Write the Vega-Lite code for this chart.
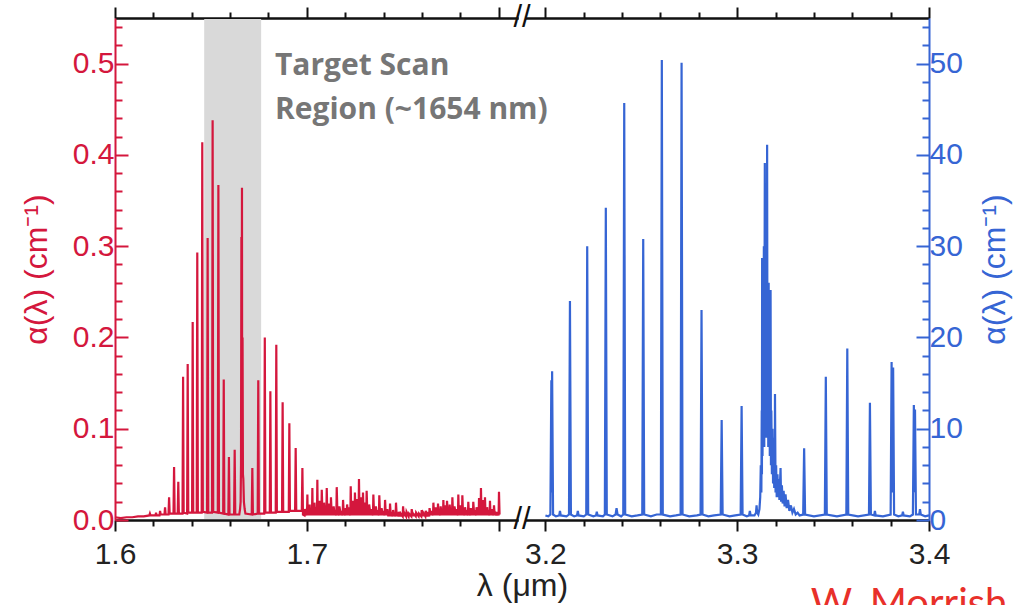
{
"$schema": "https://vega.github.io/schema/vega-lite/v6.json",
"autosize": {"type": "none"},
"width": 814,
"height": 502,
"padding": {"left": 115, "top": 18, "right": 88, "bottom": 85},
"background": "white",
"config": {
  "view": {"stroke": null},
  "axis": {"grid": false, "domainWidth": 2, "tickWidth": 2, "labelFont": "Liberation Sans", "labelFontSize": 30, "titleFont": "Liberation Sans", "titleFontSize": 32, "titleFontWeight": "normal", "labelFlush": false, "labelOverlap": false, "labelBound": false}
},
"datasets": {
"red": [
{"l":1.600,"a":0.003},{"l":1.603,"a":0.002},{"l":1.606,"a":0.003},{"l":1.609,"a":0.003},{"l":1.612,"a":0.004},{"l":1.615,"a":0.004},
{"l":1.6179,"a":0.005},{"l":1.6182,"a":0.007},{"l":1.6185,"a":0.005},
{"l":1.6211,"a":0.005},{"l":1.6214,"a":0.008},{"l":1.6217,"a":0.005},
{"l":1.6232,"a":0.005},{"l":1.6235,"a":0.010},{"l":1.6238,"a":0.006},
{"l":1.6258,"a":0.006},{"l":1.6261,"a":0.014},{"l":1.6264,"a":0.006},
{"l":1.6279,"a":0.006},{"l":1.6282,"a":0.025},{"l":1.6285,"a":0.007},
{"l":1.6305,"a":0.007},{"l":1.6308,"a":0.058},{"l":1.6311,"a":0.007},
{"l":1.6327,"a":0.007},{"l":1.6330,"a":0.042},{"l":1.6333,"a":0.007},
{"l":1.6352,"a":0.007},{"l":1.6355,"a":0.157},{"l":1.6358,"a":0.008},
{"l":1.6376,"a":0.007},{"l":1.6379,"a":0.171},{"l":1.6382,"a":0.008},
{"l":1.6402,"a":0.008},{"l":1.6405,"a":0.217},{"l":1.6408,"a":0.008},
{"l":1.6426,"a":0.008},{"l":1.6429,"a":0.293},{"l":1.6432,"a":0.008},
{"l":1.6452,"a":0.008},{"l":1.6455,"a":0.414},{"l":1.6458,"a":0.009},
{"l":1.6480,"a":0.008},{"l":1.6483,"a":0.309},{"l":1.6486,"a":0.008},
{"l":1.6506,"a":0.008},{"l":1.6509,"a":0.438},{"l":1.6512,"a":0.009},
{"l":1.6536,"a":0.008},{"l":1.6539,"a":0.367},{"l":1.6542,"a":0.008},
{"l":1.6564,"a":0.007},{"l":1.6567,"a":0.154},{"l":1.6570,"a":0.007},
{"l":1.6591,"a":0.006},{"l":1.6594,"a":0.069},{"l":1.6597,"a":0.006},
{"l":1.6621,"a":0.006},{"l":1.6624,"a":0.077},{"l":1.6627,"a":0.006},
{"l":1.6648,"a":0.006},{"l":1.6652,"a":0.012},{"l":1.6655,"a":0.02},{"l":1.6657,"a":0.06},{"l":1.6659,"a":0.31},{"l":1.6660,"a":0.08},{"l":1.6662,"a":0.364},{"l":1.6663,"a":0.1},{"l":1.6665,"a":0.2},{"l":1.6667,"a":0.05},{"l":1.6669,"a":0.045},{"l":1.6672,"a":0.02},{"l":1.6676,"a":0.012},{"l":1.6680,"a":0.007},
{"l":1.6713,"a":0.006},{"l":1.6716,"a":0.057},{"l":1.6719,"a":0.006},
{"l":1.6744,"a":0.007},{"l":1.6747,"a":0.153},{"l":1.6750,"a":0.007},
{"l":1.6778,"a":0.007},{"l":1.6781,"a":0.200},{"l":1.6784,"a":0.008},
{"l":1.6807,"a":0.008},{"l":1.6810,"a":0.141},{"l":1.6813,"a":0.008},
{"l":1.6838,"a":0.008},{"l":1.6841,"a":0.192},{"l":1.6844,"a":0.009},
{"l":1.6871,"a":0.009},{"l":1.6874,"a":0.129},{"l":1.6877,"a":0.009},
{"l":1.6906,"a":0.009},{"l":1.6909,"a":0.106},{"l":1.6912,"a":0.010},
{"l":1.6939,"a":0.010},{"l":1.6942,"a":0.079},{"l":1.6945,"a":0.010},
{"l":1.6974,"a":0.010},{"l":1.6977,"a":0.057},{"l":1.6980,"a":0.006},
{"l":1.6988,"a":0.005},{"l":1.6990,"a":0.012},{"l":1.6998,"a":0.005},{"l":1.7000,"a":0.012},{"l":1.7001,"a":0.005},{"l":1.7003,"a":0.028},{"l":1.7005,"a":0.005},{"l":1.7007,"a":0.014},
{"l":1.7013,"a":0.005},{"l":1.7015,"a":0.017},{"l":1.7018,"a":0.005},{"l":1.7020,"a":0.011},{"l":1.7024,"a":0.005},{"l":1.7026,"a":0.013},{"l":1.7027,"a":0.005},{"l":1.7029,"a":0.035},
{"l":1.7031,"a":0.005},{"l":1.7032,"a":0.015},{"l":1.7038,"a":0.005},{"l":1.7040,"a":0.019},{"l":1.7044,"a":0.005},{"l":1.7046,"a":0.012},{"l":1.7050,"a":0.005},{"l":1.7052,"a":0.014},
{"l":1.7053,"a":0.005},{"l":1.7055,"a":0.044},{"l":1.7057,"a":0.005},{"l":1.7058,"a":0.016},{"l":1.7064,"a":0.005},{"l":1.7066,"a":0.021},{"l":1.7070,"a":0.005},{"l":1.7072,"a":0.013},
{"l":1.7076,"a":0.005},{"l":1.7078,"a":0.033},{"l":1.7082,"a":0.005},{"l":1.7084,"a":0.015},{"l":1.7088,"a":0.005},{"l":1.7090,"a":0.019},{"l":1.7095,"a":0.005},{"l":1.7097,"a":0.013},
{"l":1.7102,"a":0.005},{"l":1.7104,"a":0.035},{"l":1.7107,"a":0.005},{"l":1.7109,"a":0.014},{"l":1.7113,"a":0.005},{"l":1.7115,"a":0.018},{"l":1.7118,"a":0.005},{"l":1.7120,"a":0.012},
{"l":1.7124,"a":0.005},{"l":1.7126,"a":0.025},{"l":1.7130,"a":0.005},{"l":1.7132,"a":0.013},{"l":1.7138,"a":0.005},{"l":1.7140,"a":0.015},{"l":1.7146,"a":0.005},{"l":1.7148,"a":0.011},
{"l":1.7154,"a":0.005},{"l":1.7156,"a":0.036},{"l":1.7160,"a":0.005},{"l":1.7162,"a":0.012},{"l":1.7168,"a":0.005},{"l":1.7170,"a":0.015},{"l":1.7178,"a":0.005},{"l":1.7180,"a":0.010},
{"l":1.7187,"a":0.005},{"l":1.7189,"a":0.022},{"l":1.7193,"a":0.005},{"l":1.7195,"a":0.011},{"l":1.7201,"a":0.005},{"l":1.7203,"a":0.013},{"l":1.7208,"a":0.005},{"l":1.7210,"a":0.017},
{"l":1.7216,"a":0.005},{"l":1.7218,"a":0.014},{"l":1.7227,"a":0.005},{"l":1.7229,"a":0.037},{"l":1.7232,"a":0.005},{"l":1.7234,"a":0.016},{"l":1.7238,"a":0.005},{"l":1.7240,"a":0.021},
{"l":1.7244,"a":0.005},{"l":1.7246,"a":0.015},{"l":1.7249,"a":0.005},{"l":1.7251,"a":0.030},{"l":1.7254,"a":0.005},{"l":1.7256,"a":0.017},{"l":1.7260,"a":0.005},{"l":1.7262,"a":0.023},
{"l":1.7265,"a":0.005},{"l":1.7267,"a":0.016},{"l":1.7270,"a":0.005},{"l":1.7272,"a":0.045},{"l":1.7275,"a":0.005},{"l":1.7277,"a":0.018},{"l":1.7280,"a":0.005},{"l":1.7282,"a":0.025},
{"l":1.7286,"a":0.005},{"l":1.7288,"a":0.016},{"l":1.7291,"a":0.005},{"l":1.7293,"a":0.030},{"l":1.7296,"a":0.005},{"l":1.7298,"a":0.015},{"l":1.7301,"a":0.005},{"l":1.7303,"a":0.019},
{"l":1.7306,"a":0.005},{"l":1.7308,"a":0.014},{"l":1.7310,"a":0.005},{"l":1.7312,"a":0.032},{"l":1.7316,"a":0.005},{"l":1.7318,"a":0.013},{"l":1.7323,"a":0.005},{"l":1.7325,"a":0.017},
{"l":1.7333,"a":0.005},{"l":1.7335,"a":0.012},{"l":1.7345,"a":0.005},{"l":1.7347,"a":0.028},{"l":1.7351,"a":0.005},{"l":1.7353,"a":0.012},{"l":1.7358,"a":0.005},{"l":1.7360,"a":0.015},
{"l":1.7366,"a":0.005},{"l":1.7368,"a":0.011},{"l":1.7376,"a":0.005},{"l":1.7378,"a":0.027},{"l":1.7382,"a":0.005},{"l":1.7384,"a":0.011},{"l":1.7388,"a":0.005},{"l":1.7390,"a":0.013},
{"l":1.7396,"a":0.005},{"l":1.7398,"a":0.010},{"l":1.7406,"a":0.005},{"l":1.7408,"a":0.022},{"l":1.7412,"a":0.005},{"l":1.7414,"a":0.010},{"l":1.7418,"a":0.005},{"l":1.7420,"a":0.012},
{"l":1.7425,"a":0.004},{"l":1.7427,"a":0.009},{"l":1.7432,"a":0.004},{"l":1.7434,"a":0.018},{"l":1.7438,"a":0.004},{"l":1.7440,"a":0.009},{"l":1.7448,"a":0.004},{"l":1.7450,"a":0.011},
{"l":1.7455,"a":0.004},{"l":1.7457,"a":0.008},{"l":1.7463,"a":0.004},{"l":1.7465,"a":0.019},{"l":1.7469,"a":0.004},{"l":1.7471,"a":0.008},{"l":1.7478,"a":0.004},{"l":1.7480,"a":0.009},
{"l":1.7488,"a":0.004},{"l":1.7490,"a":0.007},{"l":1.7500,"a":0.004},{"l":1.7502,"a":0.015},{"l":1.7506,"a":0.004},{"l":1.7508,"a":0.008},{"l":1.7518,"a":0.004},{"l":1.7520,"a":0.009},
{"l":1.7531,"a":0.004},{"l":1.7533,"a":0.007},{"l":1.7545,"a":0.004},{"l":1.7547,"a":0.012},{"l":1.7553,"a":0.004},{"l":1.7555,"a":0.007},{"l":1.7568,"a":0.004},{"l":1.7570,"a":0.008},
{"l":1.7583,"a":0.004},{"l":1.7585,"a":0.007},{"l":1.7597,"a":0.004},{"l":1.7599,"a":0.011},{"l":1.7605,"a":0.004},{"l":1.7607,"a":0.008},{"l":1.7618,"a":0.004},{"l":1.7620,"a":0.010},
{"l":1.7628,"a":0.004},{"l":1.7630,"a":0.009},{"l":1.7638,"a":0.004},{"l":1.7640,"a":0.013},{"l":1.7646,"a":0.005},{"l":1.7648,"a":0.010},{"l":1.7658,"a":0.005},{"l":1.7660,"a":0.019},
{"l":1.7664,"a":0.005},{"l":1.7666,"a":0.011},{"l":1.7670,"a":0.005},{"l":1.7672,"a":0.014},{"l":1.7676,"a":0.005},{"l":1.7678,"a":0.011},{"l":1.7682,"a":0.005},{"l":1.7684,"a":0.018},
{"l":1.7688,"a":0.005},{"l":1.7690,"a":0.012},{"l":1.7696,"a":0.005},{"l":1.7698,"a":0.015},{"l":1.7703,"a":0.005},{"l":1.7705,"a":0.012},{"l":1.7710,"a":0.005},{"l":1.7712,"a":0.022},
{"l":1.7715,"a":0.005},{"l":1.7717,"a":0.013},{"l":1.7720,"a":0.005},{"l":1.7722,"a":0.016},{"l":1.7724,"a":0.005},{"l":1.7726,"a":0.013},{"l":1.7729,"a":0.005},{"l":1.7731,"a":0.021},
{"l":1.7736,"a":0.005},{"l":1.7738,"a":0.014},{"l":1.7743,"a":0.005},{"l":1.7745,"a":0.017},{"l":1.7749,"a":0.005},{"l":1.7751,"a":0.013},{"l":1.7757,"a":0.005},{"l":1.7759,"a":0.025},
{"l":1.7763,"a":0.005},{"l":1.7765,"a":0.013},{"l":1.7768,"a":0.005},{"l":1.7770,"a":0.015},{"l":1.7778,"a":0.005},{"l":1.7780,"a":0.012},{"l":1.7788,"a":0.005},{"l":1.7790,"a":0.028},
{"l":1.7793,"a":0.005},{"l":1.7795,"a":0.013},{"l":1.7798,"a":0.005},{"l":1.7800,"a":0.016},{"l":1.7804,"a":0.005},{"l":1.7806,"a":0.012},{"l":1.7809,"a":0.005},{"l":1.7811,"a":0.027},
{"l":1.7815,"a":0.005},{"l":1.7817,"a":0.012},{"l":1.7823,"a":0.005},{"l":1.7825,"a":0.014},{"l":1.7832,"a":0.005},{"l":1.7834,"a":0.011},{"l":1.7840,"a":0.005},{"l":1.7842,"a":0.020},
{"l":1.7846,"a":0.005},{"l":1.7848,"a":0.011},{"l":1.7853,"a":0.005},{"l":1.7855,"a":0.013},{"l":1.7860,"a":0.005},{"l":1.7862,"a":0.011},{"l":1.7866,"a":0.005},{"l":1.7868,"a":0.020},
{"l":1.7873,"a":0.005},{"l":1.7875,"a":0.011},{"l":1.7883,"a":0.005},{"l":1.7885,"a":0.014},{"l":1.7890,"a":0.005},{"l":1.7892,"a":0.013},{"l":1.7896,"a":0.005},{"l":1.7898,"a":0.024},
{"l":1.7901,"a":0.005},{"l":1.7903,"a":0.018},{"l":1.7906,"a":0.005},{"l":1.7908,"a":0.035},{"l":1.7911,"a":0.005},{"l":1.7913,"a":0.019},{"l":1.7916,"a":0.005},{"l":1.7918,"a":0.022},
{"l":1.7921,"a":0.005},{"l":1.7923,"a":0.015},{"l":1.7927,"a":0.005},{"l":1.7929,"a":0.025},{"l":1.7932,"a":0.005},{"l":1.7934,"a":0.013},{"l":1.7938,"a":0.005},{"l":1.7940,"a":0.014},
{"l":1.7945,"a":0.005},{"l":1.7947,"a":0.011},{"l":1.7953,"a":0.005},{"l":1.7955,"a":0.021},{"l":1.7958,"a":0.005},{"l":1.7960,"a":0.010},{"l":1.7963,"a":0.005},{"l":1.7965,"a":0.012},
{"l":1.7968,"a":0.005},{"l":1.7970,"a":0.009},{"l":1.7974,"a":0.005},{"l":1.7976,"a":0.016},{"l":1.7980,"a":0.005},{"l":1.7982,"a":0.009},{"l":1.7988,"a":0.005},{"l":1.7990,"a":0.009},
{"l":1.7995,"a":0.005},{"l":1.7997,"a":0.008},{"l":1.8000,"a":0.005},{"l":1.8002,"a":0.031},{"l":1.8005,"a":0.006}
],
"blue": [
{"l":3.2000,"a":0.5},{"l":3.2015,"a":0.4},{"l":3.2026,"a":0.6},{"l":3.2031,"a":15.3},{"l":3.2033,"a":3},{"l":3.2035,"a":16.3},{"l":3.2040,"a":0.6},
{"l":3.2055,"a":0.4},{"l":3.2072,"a":0.5},{"l":3.2076,"a":1.0},{"l":3.2080,"a":0.5},
{"l":3.2110,"a":0.4},{"l":3.2123,"a":0.6},{"l":3.2128,"a":24.0},{"l":3.2133,"a":0.6},
{"l":3.2150,"a":0.4},{"l":3.2165,"a":0.5},{"l":3.2169,"a":1.0},{"l":3.2173,"a":0.5},
{"l":3.2200,"a":0.4},{"l":3.2213,"a":0.6},{"l":3.2218,"a":30.0},{"l":3.2223,"a":0.6},
{"l":3.2250,"a":0.4},{"l":3.2264,"a":0.5},{"l":3.2268,"a":0.9},{"l":3.2272,"a":0.5},
{"l":3.2300,"a":0.4},{"l":3.2310,"a":0.6},{"l":3.2315,"a":34.2},{"l":3.2320,"a":0.6},
{"l":3.2350,"a":0.4},{"l":3.2366,"a":0.6},{"l":3.2371,"a":1.3},{"l":3.2376,"a":0.6},
{"l":3.2395,"a":0.4},{"l":3.2406,"a":0.6},{"l":3.2411,"a":45.7},{"l":3.2416,"a":0.6},
{"l":3.2450,"a":0.4},{"l":3.2480,"a":0.5},{"l":3.2505,"a":0.6},{"l":3.2510,"a":30.8},{"l":3.2515,"a":0.6},
{"l":3.2550,"a":0.4},{"l":3.2580,"a":0.6},{"l":3.2602,"a":0.6},{"l":3.2607,"a":50.4},{"l":3.2612,"a":0.6},
{"l":3.2650,"a":0.4},{"l":3.2680,"a":0.5},{"l":3.2705,"a":0.6},{"l":3.2710,"a":50.1},{"l":3.2715,"a":0.6},
{"l":3.2750,"a":0.4},{"l":3.2790,"a":0.5},{"l":3.2809,"a":0.6},{"l":3.2814,"a":23.0},{"l":3.2819,"a":0.6},
{"l":3.2850,"a":0.4},{"l":3.2880,"a":0.5},{"l":3.2914,"a":0.6},{"l":3.2919,"a":10.95},{"l":3.2924,"a":0.6},
{"l":3.2960,"a":0.4},{"l":3.2990,"a":0.5},{"l":3.3018,"a":0.6},{"l":3.3023,"a":12.5},{"l":3.3028,"a":0.6},
{"l":3.3050,"a":0.4},{"l":3.3062,"a":0.5},{"l":3.3066,"a":1.0},{"l":3.3070,"a":0.5},
{"l":3.3090,"a":0.5},{"l":3.3098,"a":0.8},{"l":3.3101,"a":1.6},{"l":3.3104,"a":0.8},
{"l":3.3110,"a":0.6},{"l":3.3116,"a":1.2},{"l":3.3120,"a":2.5},{"l":3.3123,"a":6},{"l":3.3126,"a":3},{"l":3.3128,"a":12},{"l":3.3129,"a":5},{"l":3.3130,"a":28.7},{"l":3.3132,"a":7},
{"l":3.3134,"a":14},{"l":3.3136,"a":8},{"l":3.3139,"a":30},{"l":3.3141,"a":8},{"l":3.3144,"a":39.1},{"l":3.3146,"a":9},{"l":3.3148,"a":20},
{"l":3.3150,"a":9},{"l":3.3152,"a":30},{"l":3.3154,"a":9},{"l":3.3156,"a":41.1},{"l":3.3158,"a":9},{"l":3.3160,"a":22},{"l":3.3162,"a":8},
{"l":3.3164,"a":26},{"l":3.3166,"a":8},{"l":3.3168,"a":16},{"l":3.3170,"a":7},{"l":3.3172,"a":12},{"l":3.3173,"a":7},{"l":3.3174,"a":25.2},{"l":3.3176,"a":6},{"l":3.3178,"a":12},
{"l":3.3181,"a":5},{"l":3.3184,"a":10},{"l":3.3187,"a":4},{"l":3.3190,"a":9},{"l":3.3193,"a":3.5},{"l":3.3195,"a":8},{"l":3.3196,"a":3.5},{"l":3.3197,"a":13.8},{"l":3.3200,"a":3},
{"l":3.3203,"a":6},{"l":3.3206,"a":2.5},{"l":3.3210,"a":5},{"l":3.3213,"a":2.5},{"l":3.3217,"a":4.5},{"l":3.3220,"a":2.2},{"l":3.3226,"a":5.7},
{"l":3.3229,"a":2},{"l":3.3233,"a":3.8},{"l":3.3237,"a":1.8},{"l":3.3242,"a":3.2},{"l":3.3247,"a":1.5},{"l":3.3252,"a":2.8},{"l":3.3258,"a":1.3},
{"l":3.3265,"a":2.2},{"l":3.3272,"a":1.0},{"l":3.3280,"a":1.6},{"l":3.3288,"a":0.8},{"l":3.3296,"a":1.2},{"l":3.3305,"a":0.6},{"l":3.3315,"a":0.8},{"l":3.3325,"a":0.5},
{"l":3.3344,"a":0.6},{"l":3.3349,"a":7.85},{"l":3.3354,"a":0.6},
{"l":3.3400,"a":0.4},{"l":3.3457,"a":0.6},{"l":3.3462,"a":15.7},{"l":3.3467,"a":0.6},
{"l":3.3520,"a":0.4},{"l":3.3569,"a":0.6},{"l":3.3574,"a":18.8},{"l":3.3579,"a":0.6},
{"l":3.3630,"a":0.4},{"l":3.3687,"a":0.6},{"l":3.3692,"a":12.85},{"l":3.3697,"a":0.6},
{"l":3.3714,"a":0.5},{"l":3.3718,"a":1.0},{"l":3.3722,"a":0.5},
{"l":3.3760,"a":0.4},{"l":3.3800,"a":0.6},{"l":3.3805,"a":17.3},{"l":3.3809,"a":3},{"l":3.3813,"a":16.7},{"l":3.3818,"a":0.6},
{"l":3.3840,"a":0.4},{"l":3.3860,"a":0.5},{"l":3.3864,"a":0.9},{"l":3.3868,"a":0.5},
{"l":3.3900,"a":0.4},{"l":3.3916,"a":0.6},{"l":3.3921,"a":12.6},{"l":3.3924,"a":3},{"l":3.3927,"a":12.1},{"l":3.3932,"a":0.6},
{"l":3.3949,"a":0.6},{"l":3.3953,"a":1.2},{"l":3.3957,"a":0.6},{"l":3.3980,"a":0.4},{"l":3.4000,"a":0.5}
]
},
"resolve": {"scale": {"x": "independent", "y": "independent"}, "axis": {"x": "independent", "y": "independent"}},
"layer": [
{
  "data": {"values": [{}]},
  "mark": {"type": "rect", "color": "#d9d9d9"},
  "encoding": {
    "x": {"datum": 1.6465, "type": "quantitative", "scale": {"domain": [1.6, 2.0244], "nice": false, "zero": false},
      "axis": {"orient": "top", "values": [1.6,1.62,1.64,1.66,1.68,1.7,1.72,1.74,1.76,1.78,1.8], "labels": false, "title": null, "domainColor": "#111", "tickColor": "#111",
        "tickSize": {"condition": {"test": "abs(datum.value*10 - round(datum.value*10)) < 0.001", "value": 11}, "value": 6}}},
    "x2": {"datum": 1.6762},
    "y": {"datum": 0.0012, "type": "quantitative", "scale": {"domain": [0, 0.55], "nice": false, "zero": false}, "axis": null},
    "y2": {"datum": 0.5488}
  }
},
{
  "data": {"name": "red"},
  "mark": {"type": "line", "color": "#d4173d", "strokeWidth": 2.2, "interpolate": "linear"},
  "encoding": {
    "x": {"field": "l", "type": "quantitative", "scale": {"domain": [1.6, 2.0244], "nice": false, "zero": false},
      "axis": {"orient": "bottom", "values": [1.6,1.62,1.64,1.66,1.68,1.7,1.72,1.74,1.76,1.78,1.8],
        "labelExpr": "(abs(datum.value*10 - round(datum.value*10)) < 0.001 && datum.value < 1.75) ? format(datum.value, '.1f') : ''",
        "tickSize": {"condition": {"test": "abs(datum.value*10 - round(datum.value*10)) < 0.001", "value": 11}, "value": 6},
        "domainColor": "#111", "tickColor": "#111", "labelColor": "#222", "labelPadding": 8,
        "title": "λ (μm)", "titleColor": "#222", "titlePadding": 1}},
    "y": {"field": "a", "type": "quantitative", "scale": {"domain": [0, 0.55], "nice": false, "zero": false},
      "axis": {"orient": "left", "values": [0,0.02,0.04,0.06,0.08,0.1,0.12,0.14,0.16,0.18,0.2,0.22,0.24,0.26,0.28,0.3,0.32,0.34,0.36,0.38,0.4,0.42,0.44,0.46,0.48,0.5,0.52,0.54],
        "labelExpr": "abs(datum.value*10 - round(datum.value*10)) < 0.001 ? format(datum.value, '.1f') : ''",
        "tickSize": {"condition": {"test": "abs(datum.value*10 - round(datum.value*10)) < 0.001", "value": -13}, "value": -7},
        "domainColor": "#d4173d", "tickColor": "#d4173d", "labelColor": "#d4173d", "labelPadding": 14,
        "title": "α(λ) (cm⁻¹)", "titleColor": "#d4173d", "titlePadding": 19}}
  }
},
{
  "data": {"name": "blue"},
  "mark": {"type": "line", "color": "#3665d4", "strokeWidth": 2.2, "interpolate": "linear"},
  "encoding": {
    "x": {"field": "l", "type": "quantitative", "scale": {"domain": [2.9756, 3.4], "nice": false, "zero": false},
      "axis": {"orient": "bottom", "values": [3.2,3.22,3.24,3.26,3.28,3.3,3.32,3.34,3.36,3.38,3.4],
        "labelExpr": "abs(datum.value*10 - round(datum.value*10)) < 0.001 ? format(datum.value, '.1f') : ''",
        "tickSize": {"condition": {"test": "abs(datum.value*10 - round(datum.value*10)) < 0.001", "value": 11}, "value": 6},
        "domainColor": "#111", "tickColor": "#111", "labelColor": "#222", "labelPadding": 8, "title": null}},
    "y": {"field": "a", "type": "quantitative", "scale": {"domain": [0, 55], "nice": false, "zero": false},
      "axis": {"orient": "right", "values": [0,2,4,6,8,10,12,14,16,18,20,22,24,26,28,30,32,34,36,38,40,42,44,46,48,50,52,54],
        "labelExpr": "datum.value % 10 == 0 ? format(datum.value, 'd') : ''",
        "tickSize": {"condition": {"test": "datum.value % 10 == 0", "value": -13}, "value": -7},
        "domainColor": "#3665d4", "tickColor": "#3665d4", "labelColor": "#3665d4", "labelPadding": 13,
        "title": "α(λ) (cm⁻¹)", "titleColor": "#3665d4", "titlePadding": 17, "titleAngle": 270, "titleBaseline": "top"}}
  }
},
{
  "data": {"values": [{}]},
  "mark": {"type": "text", "text": "W. Morrish", "font": "Lato", "fontSize": 40, "color": "#e8302a", "align": "left", "baseline": "alphabetic"},
  "encoding": {
    "x": {"datum": 3.3384, "type": "quantitative", "scale": {"domain": [2.9756, 3.4], "nice": false, "zero": false},
      "axis": {"orient": "top", "values": [3.2,3.22,3.24,3.26,3.28,3.3,3.32,3.34,3.36,3.38,3.4], "labels": false, "title": null, "domainColor": "#111", "tickColor": "#111",
        "tickSize": {"condition": {"test": "abs(datum.value*10 - round(datum.value*10)) < 0.001", "value": 11}, "value": 6}}},
    "y": {"datum": -10.6, "type": "quantitative", "scale": {"domain": [0, 55], "nice": false, "zero": false}, "axis": null}
  }
},
{
  "data": {"values": [{}]},
  "mark": {"type": "text", "text": ["Target Scan", "Region (~1654 nm)"], "font": "Open Sans", "fontSize": 30, "fontWeight": "bold", "color": "#767676", "align": "left", "baseline": "alphabetic", "lineHeight": 44},
  "encoding": {
    "x": {"datum": 1.6834, "type": "quantitative", "scale": {"domain": [1.6, 2.0244], "nice": false, "zero": false}, "axis": null},
    "y": {"datum": 0.4874, "type": "quantitative", "scale": {"domain": [0, 0.55], "nice": false, "zero": false}, "axis": null}
  }
},
{
  "data": {"values": [{}]},
  "mark": {"type": "rect", "color": "white"},
  "encoding": {
    "x": {"datum": 1.8105, "type": "quantitative", "scale": {"domain": [1.6, 2.0244], "nice": false, "zero": false}, "axis": null},
    "x2": {"datum": 1.8139},
    "y": {"datum": -0.006, "type": "quantitative", "scale": {"domain": [0, 0.55], "nice": false, "zero": false}, "axis": null},
    "y2": {"datum": 0.006}
  }
},
{
  "data": {"values": [{}]},
  "mark": {"type": "rect", "color": "white"},
  "encoding": {
    "x": {"datum": 1.8105, "type": "quantitative", "scale": {"domain": [1.6, 2.0244], "nice": false, "zero": false}, "axis": null},
    "x2": {"datum": 1.8139},
    "y": {"datum": 0.544, "type": "quantitative", "scale": {"domain": [0, 0.55], "nice": false, "zero": false}, "axis": null},
    "y2": {"datum": 0.556}
  }
},
{
  "data": {"values": [{}]},
  "mark": {"type": "text", "text": "//", "font": "Liberation Sans", "fontSize": 31, "color": "#111", "align": "center", "baseline": "middle"},
  "encoding": {
    "x": {"datum": 1.8122, "type": "quantitative", "scale": {"domain": [1.6, 2.0244], "nice": false, "zero": false}, "axis": null},
    "y": {"datum": 0, "type": "quantitative", "scale": {"domain": [0, 0.55], "nice": false, "zero": false}, "axis": null}
  }
},
{
  "data": {"values": [{}]},
  "mark": {"type": "text", "text": "//", "font": "Liberation Sans", "fontSize": 31, "color": "#111", "align": "center", "baseline": "middle"},
  "encoding": {
    "x": {"datum": 1.8122, "type": "quantitative", "scale": {"domain": [1.6, 2.0244], "nice": false, "zero": false}, "axis": null},
    "y": {"datum": 0.55, "type": "quantitative", "scale": {"domain": [0, 0.55], "nice": false, "zero": false}, "axis": null}
  }
}
]
}
